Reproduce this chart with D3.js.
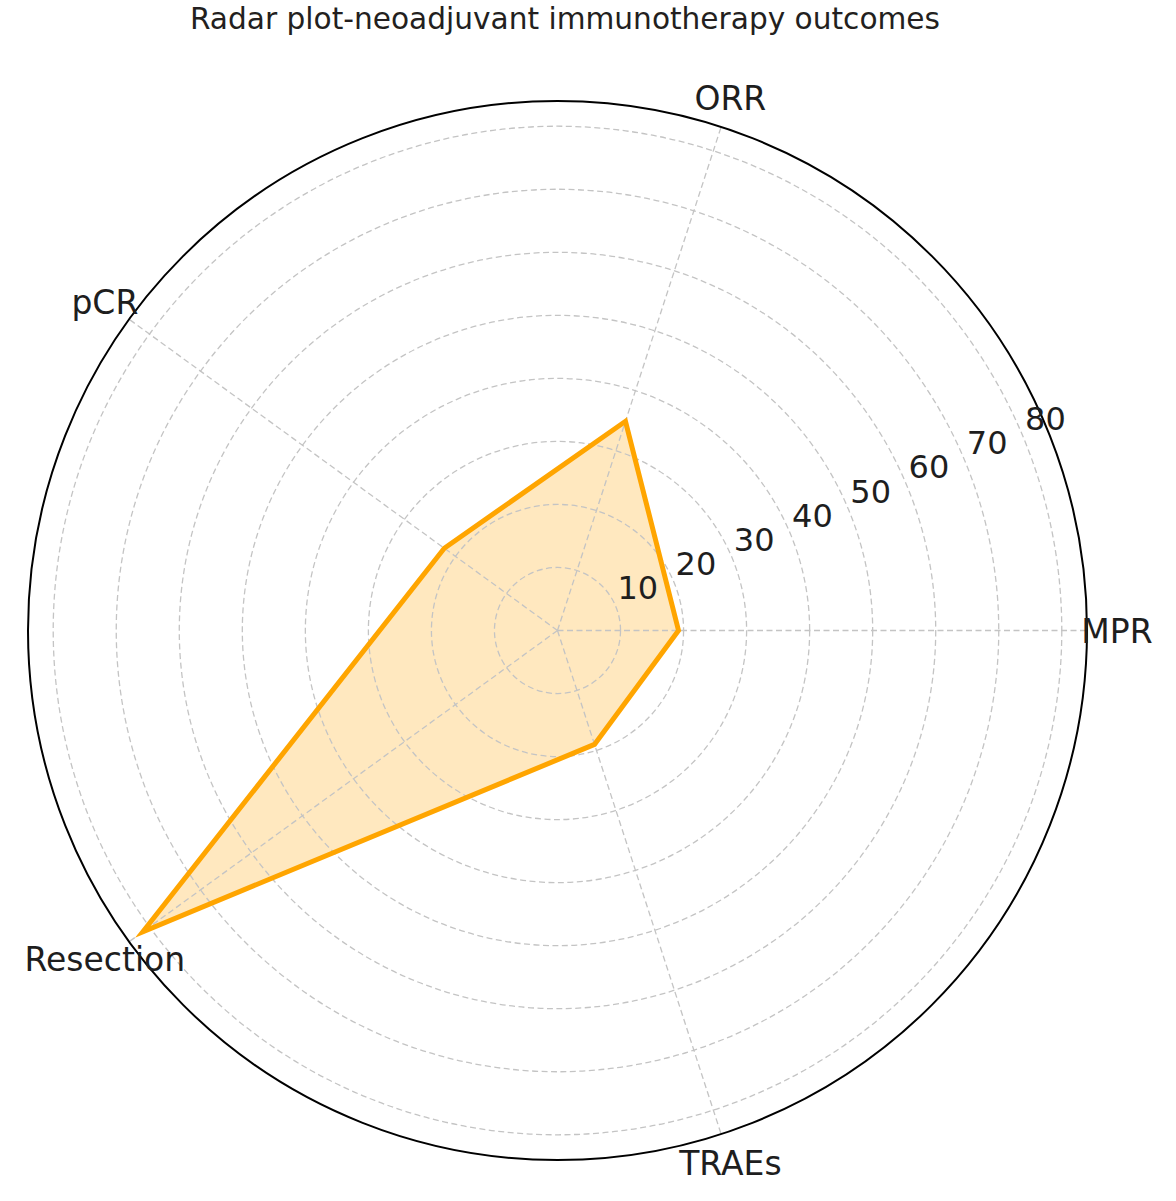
<!DOCTYPE html>
<html>
<head>
<meta charset="utf-8">
<script src="https://cdn.jsdelivr.net/npm/d3@7"></script>
<style>
  html, body { margin: 0; padding: 0; background: #ffffff; }
  svg { display: block; }
</style>
</head>
<body>
<div id="chart"></div>
<script>
const titleText = "Radar plot-neoadjuvant immunotherapy outcomes";
const categories = ["MPR", "ORR", "pCR", "Resection", "TRAEs"];
const values = [19.2, 34.9, 22.2, 81.3, 19.0];
const rTicks = [10, 20, 30, 40, 50, 60, 70, 80];
const rMax = 84;

const W = 1176, H = 1201;
const cx = 557.5, cy = 630.5, R = 529.5;

const svg = d3.select("#chart").append("svg")
  .attr("width", W).attr("height", H)
  .attr("viewBox", `0 0 ${W} ${H}`);

const r = d3.scaleLinear().domain([0, rMax]).range([0, R]);
const theta = d3.scaleLinear().domain([0, categories.length]).range([0, 2 * Math.PI]);
const d3Angle = i => Math.PI / 2 - theta(i);

const g = svg.append("g").attr("transform", `translate(${cx},${cy})`);

// title
svg.append("text")
  .attr("x", 565).attr("y", 29)
  .attr("text-anchor", "middle")
  .attr("font-family", "'DejaVu Sans Condensed', 'DejaVu Sans', sans-serif")
  .attr("font-size", 30)
  .attr("fill", "#231f20")
  .attr("textLength", 750)
  .attr("lengthAdjust", "spacingAndGlyphs")
  .text(titleText);

const series = values.map((v, i) => ({ v, i }));

const radial = d3.lineRadial()
  .angle(d => d3Angle(d.i))
  .radius(d => r(d.v))
  .curve(d3.curveLinearClosed);

g.append("path")
  .attr("d", radial(series))
  .attr("fill", "#FFA500")
  .attr("fill-opacity", 0.25)
  .attr("stroke", "none");

const gridColor = "#c4c4c4";
g.selectAll("circle.grid").data(rTicks).enter().append("circle")
  .attr("class", "grid")
  .attr("r", d => r(d))
  .attr("fill", "none")
  .attr("stroke", gridColor)
  .attr("stroke-width", 1.3)
  .attr("stroke-dasharray", "6,3.5");

g.selectAll("line.spoke").data(categories).enter().append("line")
  .attr("class", "spoke")
  .attr("x1", 0).attr("y1", 0)
  .attr("x2", (d, i) => R * Math.cos(theta(i)))
  .attr("y2", (d, i) => -R * Math.sin(theta(i)))
  .attr("stroke", gridColor)
  .attr("stroke-width", 1.3)
  .attr("stroke-dasharray", "6,3.5");

g.append("path")
  .attr("d", radial(series))
  .attr("fill", "none")
  .attr("stroke", "#FFA500")
  .attr("stroke-width", 5)
  .attr("stroke-linejoin", "miter");

g.append("circle")
  .attr("r", R)
  .attr("fill", "none")
  .attr("stroke", "#000")
  .attr("stroke-width", 2);

const labelAngle = 22.5 * Math.PI / 180;
const fs = 32;
g.selectAll("text.rtick").data(rTicks).enter().append("text")
  .attr("class", "rtick")
  .attr("x", d => r(d) * Math.cos(labelAngle) + 22)
  .attr("y", d => -r(d) * Math.sin(labelAngle) - 19 + 0.3645 * fs)
  .attr("text-anchor", "middle")
  .attr("font-family", "'DejaVu Sans', sans-serif")
  .attr("font-size", fs)
  .attr("fill", "#1e1e1e")
  .text(d => d);

const cfs = 33;
const labR = R + 30;
g.selectAll("text.cat").data(categories).enter().append("text")
  .attr("class", "cat")
  .attr("x", (d, i) => labR * Math.cos(theta(i)))
  .attr("y", (d, i) => -labR * Math.sin(theta(i)) + 0.3645 * cfs)
  .attr("text-anchor", "middle")
  .attr("font-family", "'DejaVu Sans', sans-serif")
  .attr("font-size", cfs)
  .attr("fill", "#1e1e1e")
  .text(d => d);
</script>
</body>
</html>
